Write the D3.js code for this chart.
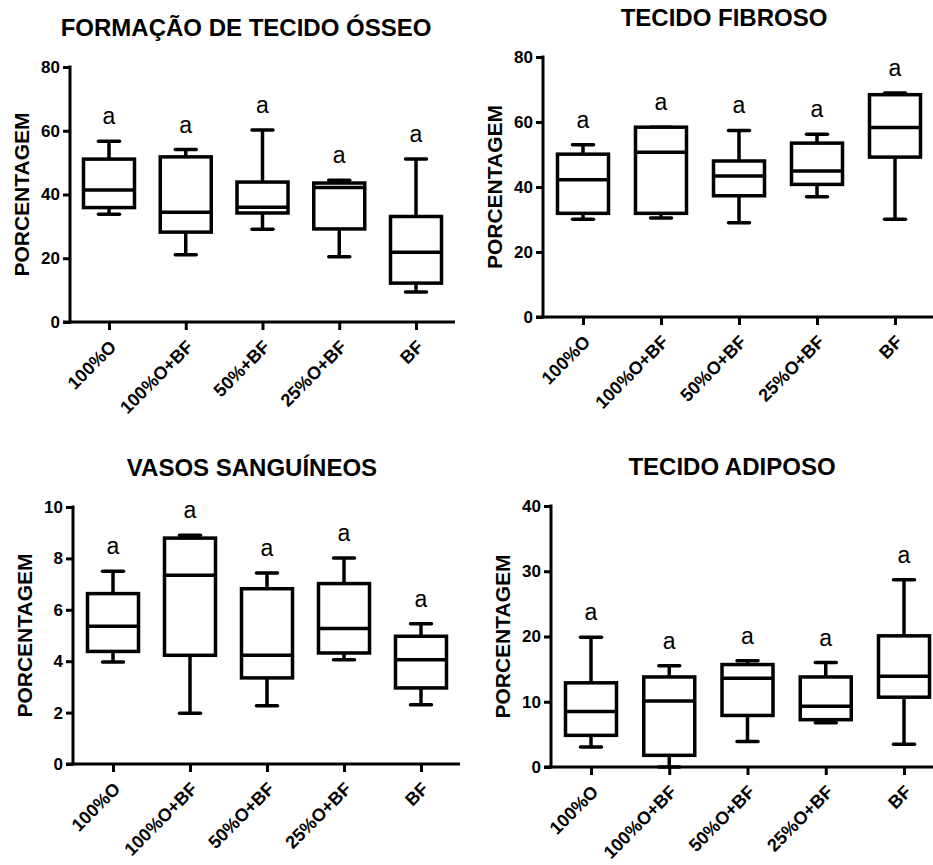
<!DOCTYPE html>
<html>
<head>
<meta charset="utf-8">
<script src="https://cdn.jsdelivr.net/npm/d3@7"></script>
<style>
  html, body { margin: 0; padding: 0; background: #fff; }
  svg { display: block; font-family: "Liberation Sans", Arial, sans-serif; }
</style>
</head>
<body>
<svg id="chart" width="933" height="865"></svg>
<script>
// ---------- DATA ----------
// five-number summaries: [min, Q1, median, Q3, max]
const boneCategories = ["100%O", "100%O+BF", "50%+BF", "25%O+BF", "BF"];
const groupCategories = ["100%O", "100%O+BF", "50%O+BF", "25%O+BF", "BF"];

const boneStats = [
  [33.8, 35.9, 41.4, 51.1, 56.7],
  [21.1, 28.2, 34.4, 51.8, 54.1],
  [29.1, 34.2, 36.0, 43.9, 60.2],
  [20.5, 29.2, 42.2, 43.6, 44.5],
  [9.4, 12.2, 21.9, 33.1, 51.1]
];
const fibrousStats = [
  [30.1, 31.9, 42.2, 50.1, 53.0],
  [30.5, 31.9, 50.7, 58.4, 58.4],
  [29.0, 37.3, 43.4, 48.0, 57.4],
  [37.0, 40.8, 44.9, 53.5, 56.2],
  [30.1, 49.2, 58.3, 68.4, 68.9]
];
const vesselStats = [
  [3.97, 4.38, 5.36, 6.63, 7.50],
  [1.97, 4.23, 7.34, 8.79, 8.90],
  [2.27, 3.35, 4.23, 6.82, 7.43],
  [4.06, 4.32, 5.27, 7.02, 8.02],
  [2.31, 2.96, 4.06, 4.97, 5.46]
];
const adiposeStats = [
  [3.07, 4.85, 8.5, 12.9, 19.9],
  [0.0, 1.79, 10.1, 13.8, 15.5],
  [3.9, 7.9, 13.6, 15.7, 16.3],
  [6.8, 7.25, 9.3, 13.8, 16.0],
  [3.5, 10.7, 13.9, 20.1, 28.7]
];
const letters = ["a", "a", "a", "a", "a"];

const boneTicks = [0, 20, 40, 60, 80];
const fibrousTicks = [0, 20, 40, 60, 80];
const vesselTicks = [0, 2, 4, 6, 8, 10];
const adiposeTicks = [0, 10, 20, 30, 40];

const titles = ["FORMAÇÃO DE TECIDO ÓSSEO", "TECIDO FIBROSO", "VASOS SANGUÍNEOS", "TECIDO ADIPOSO"];
const yLabel = "PORCENTAGEM";

// ---------- LAYOUT ----------
const panels = [
  { title: titles[0], cats: boneCategories, stats: boneStats, ticks: boneTicks, ymax: 80,
    axisX: 70, yTop: 67, yBot: 322, xFirst: 109, xLast: 416, xEnd: 455, titleX: 246, titleY: 36 },
  { title: titles[1], cats: groupCategories, stats: fibrousStats, ticks: fibrousTicks, ymax: 80,
    axisX: 543, yTop: 57, yBot: 317, xFirst: 583, xLast: 895, xEnd: 933, titleX: 724, titleY: 26 },
  { title: titles[2], cats: groupCategories, stats: vesselStats, ticks: vesselTicks, ymax: 10,
    axisX: 73, yTop: 507, yBot: 764, xFirst: 113, xLast: 421, xEnd: 460, titleX: 252, titleY: 476 },
  { title: titles[3], cats: groupCategories, stats: adiposeStats, ticks: adiposeTicks, ymax: 40,
    axisX: 551, yTop: 506, yBot: 767, xFirst: 591, xLast: 904, xEnd: 933, titleX: 732, titleY: 475 }
];

const svg = d3.select("#chart");
const boxW = 51, capW = 21, lw = 3.5;

panels.forEach(p => {
  const g = svg.append("g");
  const y = d3.scaleLinear().domain([0, p.ymax]).range([p.yBot, p.yTop]);
  const x = d3.scalePoint().domain(p.cats).range([p.xFirst, p.xLast]);

  // title
  g.append("text").attr("x", p.titleX).attr("y", p.titleY)
    .attr("text-anchor", "middle").attr("font-size", 24).attr("font-weight", "bold")
    .text(p.title);

  // y axis label
  const yc = (p.yTop + p.yBot) / 2;
  g.append("text")
    .attr("transform", `translate(${p.axisX - 41},${yc}) rotate(-90)`)
    .attr("text-anchor", "middle").attr("font-size", 21).attr("font-weight", "bold")
    .text(yLabel);

  // y axis
  const ya = g.append("g").attr("transform", `translate(${p.axisX},0)`)
    .call(d3.axisLeft(y).tickValues(p.ticks).tickSize(7).tickPadding(3).tickSizeOuter(0));
  ya.select(".domain").remove();
  ya.selectAll(".tick line").attr("stroke", "#000").attr("stroke-width", 3);
  ya.selectAll(".tick text").attr("font-size", 17).attr("font-weight", "bold")
    .attr("font-family", "Liberation Sans, Arial, sans-serif").attr("fill", "#000");
  g.append("line").attr("x1", p.axisX).attr("x2", p.axisX)
    .attr("y1", y(p.ymax) - 1.5).attr("y2", p.yBot + 1.5)
    .attr("stroke", "#000").attr("stroke-width", 3);

  // x axis
  const xa = g.append("g").attr("transform", `translate(0,${p.yBot})`)
    .call(d3.axisBottom(x).tickSize(8).tickSizeOuter(0));
  xa.select(".domain").remove();
  xa.selectAll(".tick line").attr("stroke", "#000").attr("stroke-width", 3);
  xa.selectAll(".tick text")
    .attr("x", 0).attr("y", 0).attr("dy", 0)
    .attr("transform", "translate(8,26) rotate(-45)")
    .style("text-anchor", "end")
    .attr("font-size", 18).attr("font-weight", "bold")
    .attr("font-family", "Liberation Sans, Arial, sans-serif").attr("fill", "#000");
  g.append("line").attr("x1", p.axisX - 7).attr("x2", p.xEnd)
    .attr("y1", p.yBot).attr("y2", p.yBot)
    .attr("stroke", "#000").attr("stroke-width", 3);

  // boxes
  p.stats.forEach((s, i) => {
    const cx = x(p.cats[i]);
    const [mn, q1, md, q3, mx] = s;
    const bg = g.append("g").attr("stroke", "#000").attr("fill", "none").attr("stroke-width", lw);
    // whiskers
    bg.append("line").attr("x1", cx).attr("x2", cx).attr("y1", y(q3)).attr("y2", y(mx));
    bg.append("line").attr("x1", cx).attr("x2", cx).attr("y1", y(q1)).attr("y2", y(mn));
    // caps
    bg.append("line").attr("x1", cx - capW / 2).attr("x2", cx + capW / 2)
      .attr("y1", y(mx)).attr("y2", y(mx)).attr("stroke-linecap", "round");
    bg.append("line").attr("x1", cx - capW / 2).attr("x2", cx + capW / 2)
      .attr("y1", y(mn)).attr("y2", y(mn)).attr("stroke-linecap", "round");
    // box
    bg.append("rect").attr("x", cx - boxW / 2).attr("y", y(q3))
      .attr("width", boxW).attr("height", y(q1) - y(q3)).attr("fill", "#fff");
    // median
    bg.append("line").attr("x1", cx - boxW / 2).attr("x2", cx + boxW / 2)
      .attr("y1", y(md)).attr("y2", y(md));
    // letter
    g.append("text").attr("x", cx).attr("y", y(mx) - 17)
      .attr("text-anchor", "middle").attr("font-size", 23)
      .text(letters[i]);
  });
});
</script>
</body>
</html>
